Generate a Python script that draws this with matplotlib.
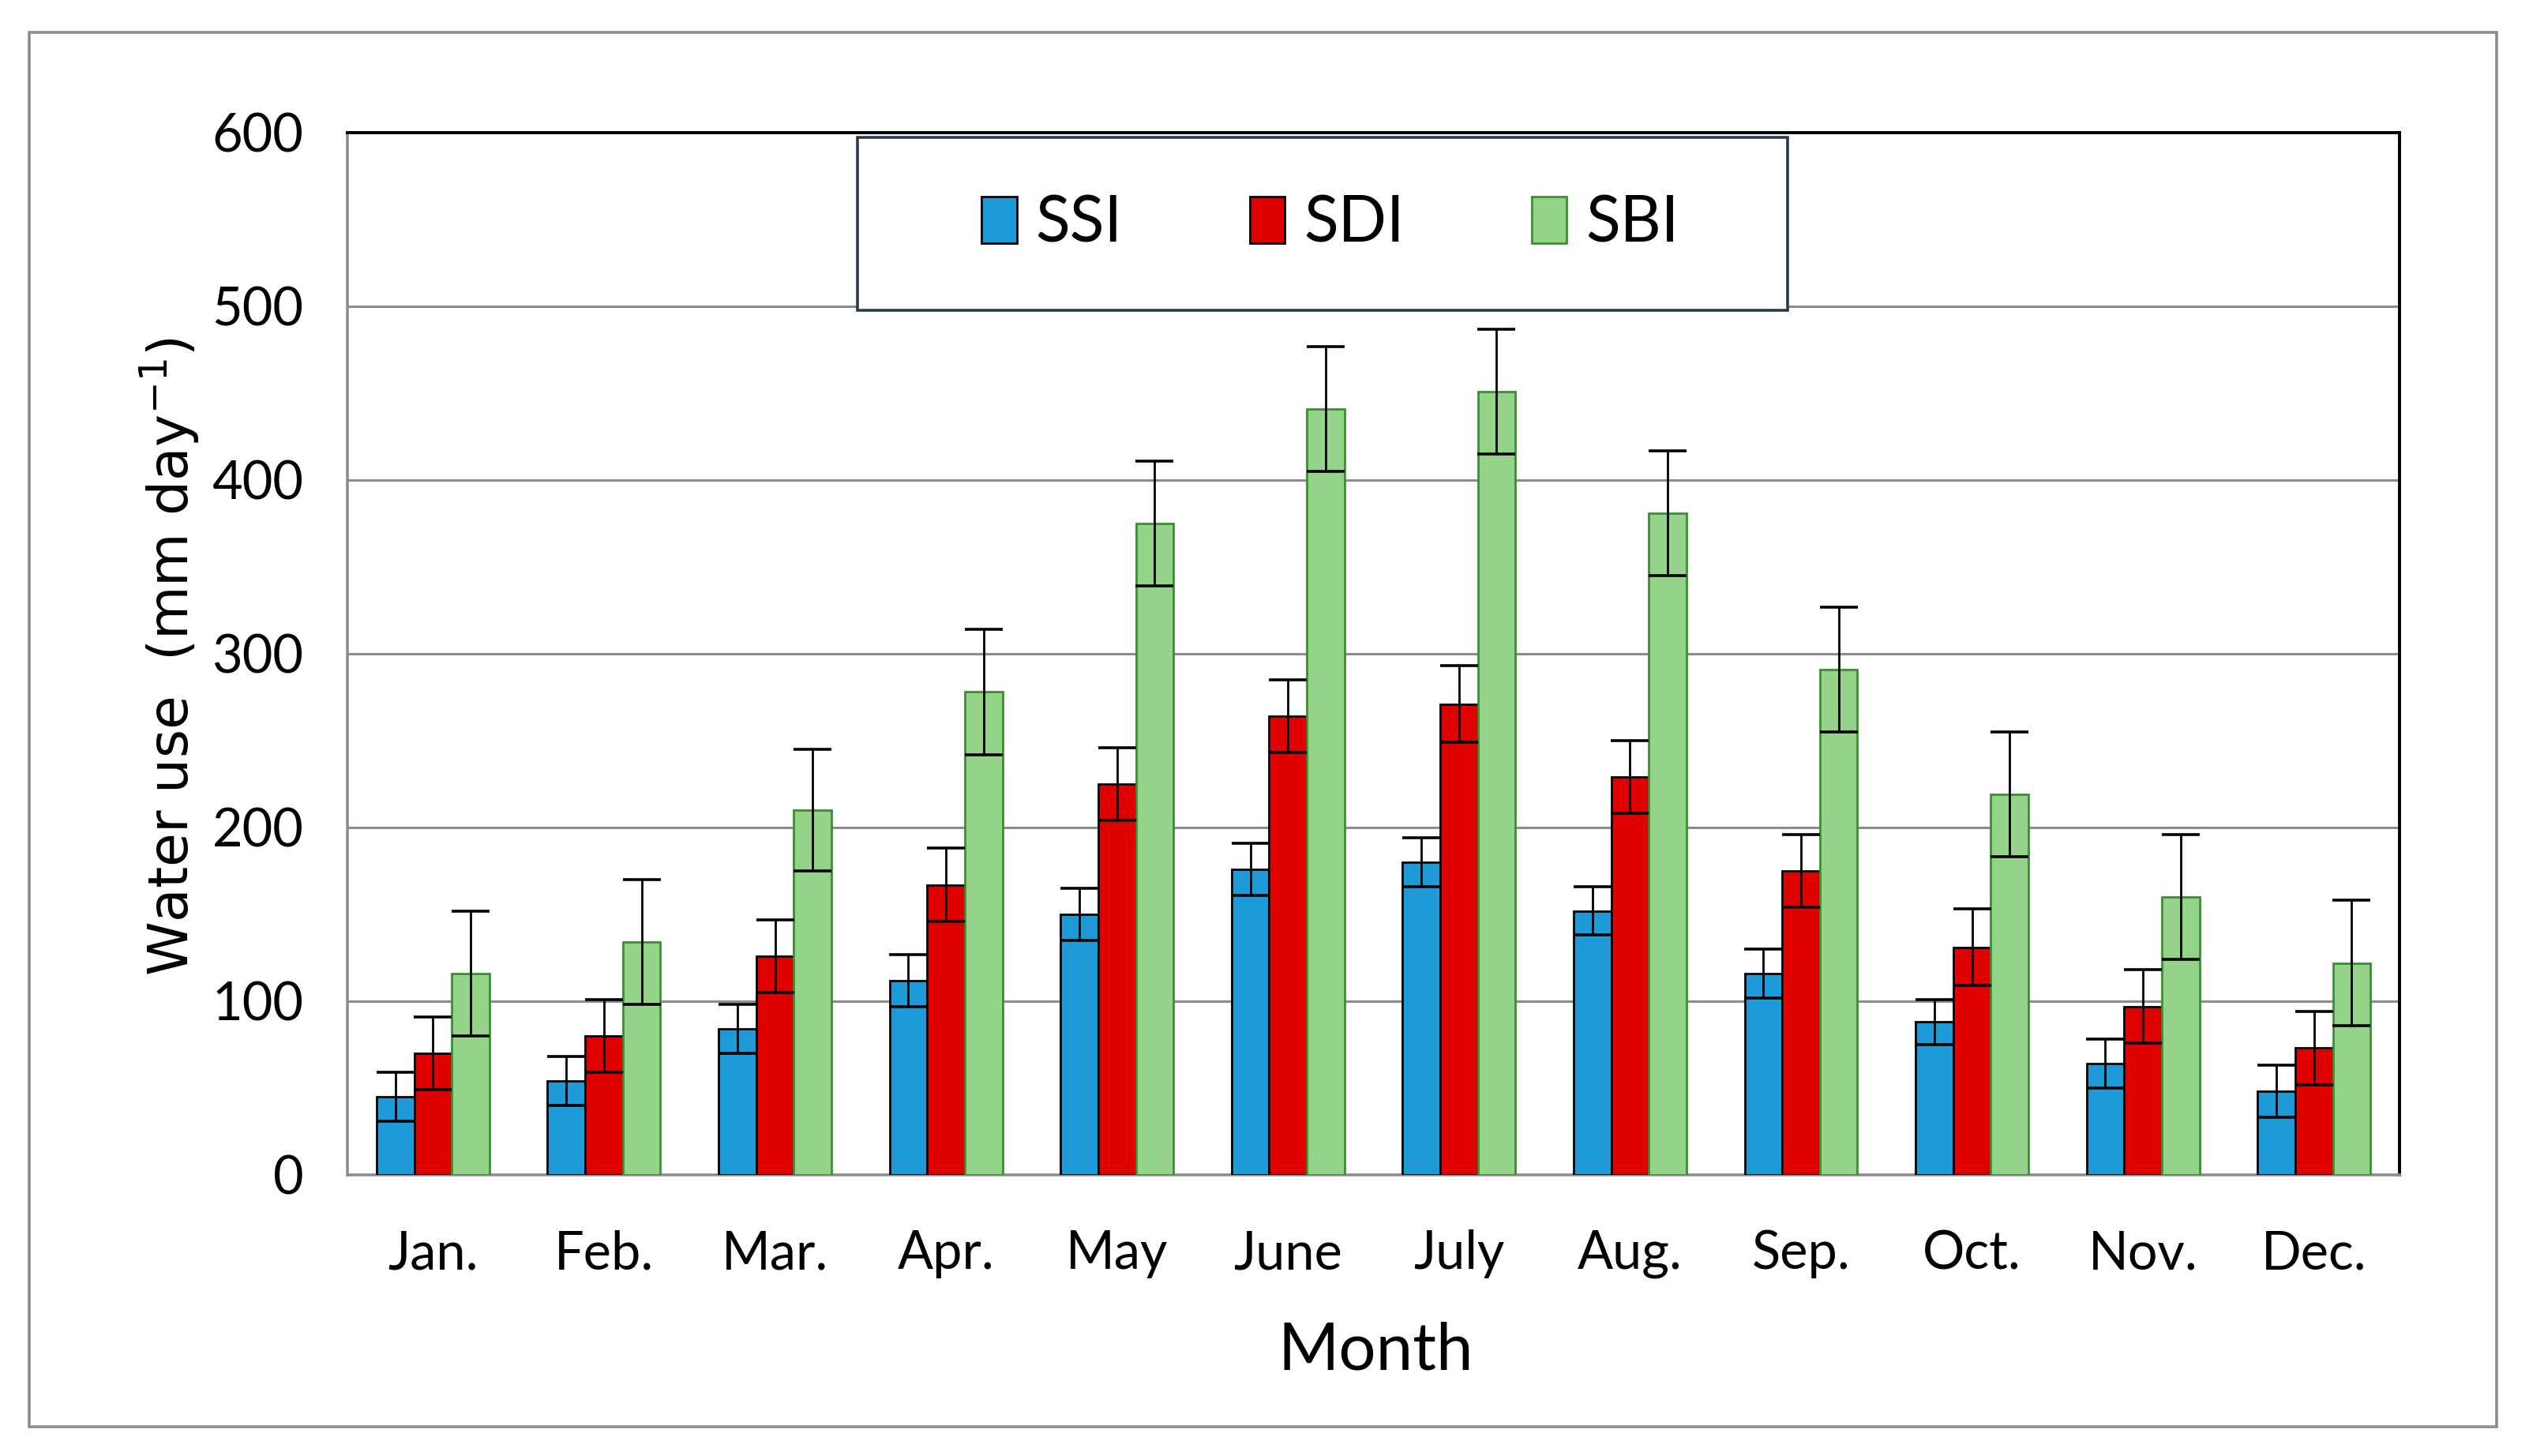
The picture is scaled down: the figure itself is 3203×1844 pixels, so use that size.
import matplotlib
matplotlib.use("Agg")
import matplotlib.pyplot as plt
from matplotlib.patches import Rectangle
import numpy as np

plt.rcParams['font.family'] = ['Lato', 'DejaVu Sans']

months = ["Jan.", "Feb.", "Mar.", "Apr.", "May", "June", "July", "Aug.", "Sep.", "Oct.", "Nov.", "Dec."]
ssi = [45, 54, 84, 112, 150, 176, 180, 152, 116, 88, 64, 48]
sdi = [70, 80, 126, 167, 225, 264, 271, 229, 175, 131, 97, 73]
sbi = [116, 134, 210, 278, 375, 441, 451, 381, 291, 219, 160, 122]
ssi_err = [14, 14, 14, 15, 15, 15, 14, 14, 14, 13, 14, 15]
sdi_err = [21, 21, 21, 21, 21, 21, 22, 21, 21, 22, 21, 21]
sbi_err = [36, 36, 35, 36, 36, 36, 36, 36, 36, 36, 36, 36]
yticks = [0, 100, 200, 300, 400, 500, 600]

series = [
    ("SSI", ssi, ssi_err, "#1e9bd7", "black"),
    ("SDI", sdi, sdi_err, "#e00000", "black"),
    ("SBI", sbi, sbi_err, "#96d38a", "#3c8f32"),
]

fig = plt.figure(figsize=(3203 / 200, 1844 / 200), dpi=200)
ax = fig.add_axes([0.1374, 0.1931, 0.8114, 0.7158])

x = np.arange(len(months))
w = 0.22
for i, (name, vals, errs, fc, ec) in enumerate(series):
    ax.bar(x + (i - 1) * w, vals, w, color=fc, edgecolor=ec, linewidth=1.0,
           label=name, zorder=3)
    ax.errorbar(x + (i - 1) * w, vals, yerr=errs, fmt="none", ecolor="black",
                elinewidth=1.0, capsize=8.5, capthick=1.3, zorder=4)

ax.set_xlim(-0.5, len(months) - 0.5)
ax.set_ylim(0, 600)
ax.set_yticks(yticks)
ax.set_xticks(x)
ax.set_xticklabels(months)
ax.tick_params(axis="both", length=0, labelsize=24)
ax.tick_params(axis="y", pad=20)
ax.tick_params(axis="x", pad=25)
ax.yaxis.grid(True, color="#8c8c8c", linewidth=1.1, zorder=0)
ax.set_axisbelow(True)

for s in ["left", "bottom"]:
    ax.spines[s].set_color("#8c8c8c")
    ax.spines[s].set_linewidth(1.3)
for s in ["top", "right"]:
    ax.spines[s].set_color("black")
    ax.spines[s].set_linewidth(1.4)

fig.text(0.067, 0.549, "Water use  (mm day$^{-1}$)", rotation=90, ha="center", va="center",
         fontsize=25, family="DejaVu Sans")
fig.text(0.544, 0.072, "Month", ha="center", va="center", fontsize=30)

# legend box
ax.add_patch(Rectangle((0.2486, 0.8295), 0.4532, 0.166, transform=ax.transAxes,
                       facecolor="white", edgecolor="#2b3a4a", linewidth=1.3, zorder=5))
leg = ax.legend(loc="center", bbox_to_anchor=(0.4790, 0.9125), ncol=3, frameon=False,
                fontsize=29, handlelength=0.55, handleheight=0.75, handletextpad=0.3,
                columnspacing=2.0)
leg.set_zorder(6)

# outer border
fig.add_artist(Rectangle((0.0116, 0.0201), 0.9756, 0.9577, transform=fig.transFigure,
                         fill=False, edgecolor="#8c8c8c", linewidth=1.3))

fig.savefig("out.png", dpi=200, facecolor="white")
